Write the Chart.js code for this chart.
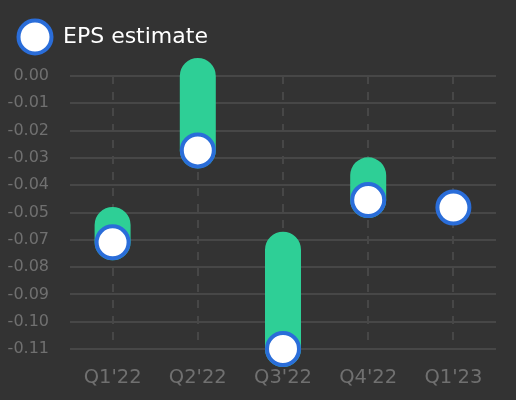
<!DOCTYPE html>
<html>
<head>
<meta charset="utf-8">
<script src="https://cdn.jsdelivr.net/npm/chart.js@4.4.0/dist/chart.umd.min.js"></script>
<style>
  html, body { margin: 0; padding: 0; background: #333333; }
  #wrap { width: 516px; height: 400px; }
</style>
</head>
<body>
<div id="wrap"><canvas id="epsChart"></canvas></div>
<script>
// Quarters on the x axis
const quarters = ["Q1'22", "Q2'22", "Q3'22", "Q4'22", "Q1'23"];
// Reported EPS = far end of the green bar (nothing yet for Q1'23)
const epsActual = [-0.06, 0.00, -0.07, -0.04, null];
// EPS estimate = the white dots
const epsEstimate = [-0.067, -0.03, -0.11, -0.05, -0.053];
// Y axis ticks and the labels printed next to them
const yTickValues = [0, -0.011, -0.022, -0.033, -0.044, -0.055, -0.066, -0.077, -0.088, -0.099, -0.11];
const yTickLabels = ["0.00", "-0.01", "-0.02", "-0.03", "-0.04", "-0.05", "-0.07", "-0.08", "-0.09", "-0.10", "-0.11"];

const GREEN = "#2ecf96";
const BLUE = "#2a6dd9";
const GRID = "#474747";
const TICK = "#707070";

Chart.defaults.font.family = "'DejaVu Sans', sans-serif";

// Each bar is a short vertical line with round caps, actual -> estimate
function buildRangePoints() {
    const pts = [];
    quarters.forEach((q, i) => {
        if (epsActual[i] === null) return;
        pts.push({ x: q, y: epsActual[i] }, { x: q, y: epsEstimate[i] }, { x: q, y: null });
    });
    return pts;
}

// Bigger dot for the legend than Chart.js draws by default
function legendDot() {
    const c = document.createElement("canvas");
    c.width = 38;
    c.height = 38;
    const g = c.getContext("2d");
    g.beginPath();
    g.arc(19, 19, 16.5, 0, Math.PI * 2);
    g.fillStyle = "#ffffff";
    g.fill();
    g.lineWidth = 4;
    g.strokeStyle = BLUE;
    g.stroke();
    return c;
}

new Chart(document.getElementById("epsChart"), {
    type: "line",
    data: {
        labels: quarters,
        datasets: [
            {
                label: "EPS estimate",
                data: epsEstimate,
                showLine: false,
                pointRadius: 16,
                pointHoverRadius: 16,
                pointBorderWidth: 4,
                pointBackgroundColor: "#ffffff",
                pointBorderColor: BLUE,
                backgroundColor: "#ffffff",
                borderColor: BLUE,
                clip: false,
                order: 0
            },
            {
                label: "EPS actual",
                data: buildRangePoints(),
                borderColor: GREEN,
                borderWidth: 36,
                borderCapStyle: "round",
                borderJoinStyle: "round",
                pointRadius: 0,
                pointHoverRadius: 0,
                spanGaps: false,
                fill: false,
                clip: false,
                order: 1
            }
        ]
    },
    options: {
        responsive: true,
        maintainAspectRatio: false,
        animation: false,
        events: [],
        layout: { padding: { left: 8, top: 16, right: 19, bottom: 0 } },
        plugins: {
            tooltip: { enabled: false },
            legend: {
                align: "start",
                labels: {
                    usePointStyle: true,
                    pointStyle: legendDot(),
                    pointStyleWidth: 34,
                    color: "#ffffff",
                    font: { size: 22 },
                    padding: 10,
                    filter: item => item.datasetIndex === 0
                }
            },
            // empty spacer under the legend
            subtitle: {
                display: true,
                text: "",
                weight: 500,
                padding: 0,
                font: { size: 18, lineHeight: 1 }
            }
        },
        scales: {
            x: {
                offset: true,
                afterFit: scale => { scale.height = 51; },
                ticks: { padding: 17, color: TICK, font: { size: 19.5 } },
                grid: { offset: false, color: GRID, lineWidth: 2, drawTicks: false },
                border: { display: false, dash: [8, 8] }
            },
            y: {
                min: -0.11,
                max: 0,
                afterFit: scale => { scale.width = 62; },
                afterBuildTicks: scale => {
                    scale.ticks = yTickValues.map(v => ({ value: v }));
                },
                ticks: {
                    autoSkip: false,
                    padding: 21,
                    color: TICK,
                    font: { size: 16 },
                    callback: (v, i) => yTickLabels[i]
                },
                grid: { color: GRID, lineWidth: 2, drawTicks: false },
                border: { display: false }
            }
        }
    }
});
</script>
</body>
</html>
